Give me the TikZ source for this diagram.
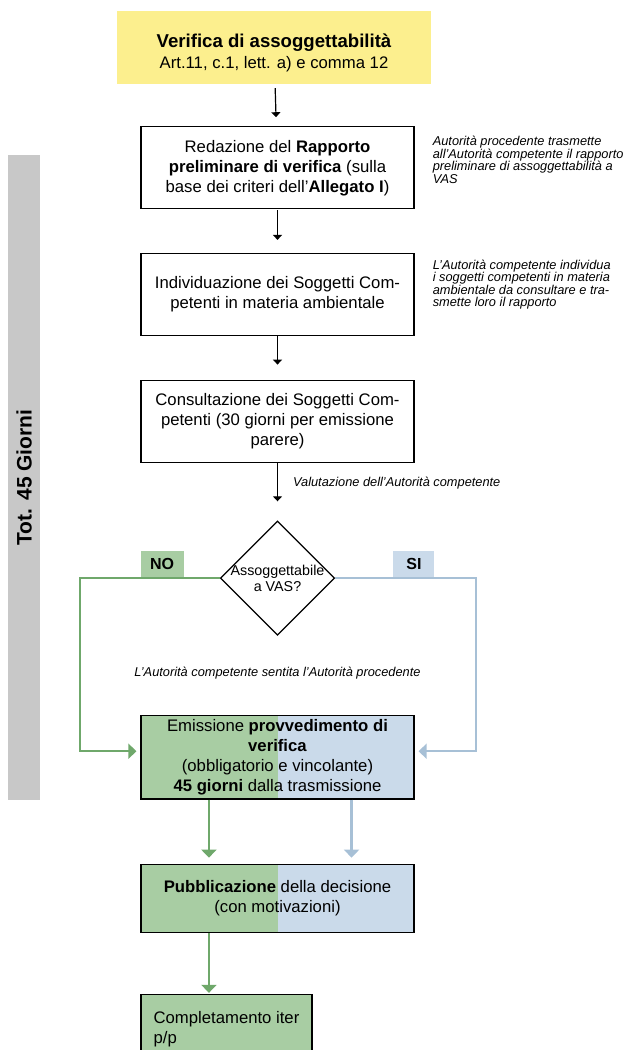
\documentclass[tikz,border=0pt]{standalone}
\usepackage{fontspec}
\setmainfont{Liberation Sans}
\usetikzlibrary{arrows.meta,positioning,shapes.geometric,calc}
\definecolor{vasyellow}{HTML}{FCEF8E}
\definecolor{vasgreen}{HTML}{A8CDA3}
\definecolor{vasgreenline}{HTML}{6FA86B}
\definecolor{vasblue}{HTML}{CADAEA}
\definecolor{vasblueline}{HTML}{A7C0D6}
\definecolor{vasgray}{HTML}{C8C8C8}
\newcommand{\boxfont}{\fontsize{16.7}{20}\selectfont}
\newcommand{\notefont}{\fontsize{12.8}{12.4}\selectfont\itshape}
\tikzset{
  flow/.style={-{Triangle[length=5pt,width=9pt]},line width=1.2pt,draw=black},
  noflow/.style={-{Triangle[length=8pt,width=15pt]},line width=2.2pt,draw=vasgreenline},
  siflow/.style={noflow,draw=vasblueline},
  box/.style={draw=black,line width=1.2pt,align=center,minimum width=273pt,minimum height=82pt,inner sep=4pt,font=\boxfont},
  splitbox/.style={box,path picture={
      \fill[vasgreen] (path picture bounding box.north west) rectangle (path picture bounding box.south);
      \fill[vasblue] (path picture bounding box.north) rectangle (path picture bounding box.south east);}},
  titlebox/.style={fill=vasyellow,align=center,minimum width=314pt,minimum height=73pt,inner sep=0pt},
  endbox/.style={draw=black,fill=vasgreen,line width=1.2pt,align=left,minimum width=171pt,minimum height=70pt,inner xsep=8pt,inner ysep=7pt,anchor=north west,font=\boxfont},
  note/.style={align=left,inner sep=0pt,font=\notefont},
  tag/.style={inner sep=0pt,minimum height=26pt,font=\fontsize{16}{16}\selectfont\bfseries},
  decision/.style={diamond,draw=black,line width=1.2pt,align=center,inner sep=-1.5pt,font=\fontsize{14.3}{16}\selectfont},
  totbar/.style={fill=vasgray,rotate=90,minimum width=645pt,minimum height=32pt,inner sep=0pt,font=\fontsize{21}{21}\selectfont\bfseries}
}

\begin{document}
\begin{tikzpicture}[x=1pt,y=-1pt]
  \useasboundingbox (0,0) rectangle (629,1050);
  \clip (0,0) rectangle (629,1050);

  \node[totbar] (tot) at (24,477.5) {Tot. 45 Giorni};

  \node[titlebox] (verifica) at (274,47.5) {\rule{0pt}{24pt}{\fontsize{18.6}{22}\selectfont\bfseries Verifica di assoggettabilità}\\[4pt]{\fontsize{16.7}{19}\selectfont Art.11, c.1, lett. a) e comma 12}};
  \node[box,below=42pt of verifica,xshift=3.5pt] (redazione) {Redazione del \textbf{Rapporto}\\\textbf{preliminare di verifica} (sulla\\base dei criteri dell'\textbf{Allegato I})};
  \node[box,below=43.5pt of redazione] (individua) {Individuazione dei Soggetti Com-\\petenti in materia ambientale};
  \node[box,below=43.5pt of individua] (consulta) {Consultazione dei Soggetti Com-\\petenti (30 giorni per emissione\\parere)};
  \node[decision,below=57.5pt of consulta] (assog) {Assoggettabile\\a VAS?};
  \node[note,below=31pt of assog] (sentita) {L'Autorità competente sentita l'Autorità procedente};
  \node[splitbox,below=79pt of assog] (emissione) {Emissione \textbf{provvedimento di}\\\textbf{verifica}\\(obbligatorio e vincolante)\\\textbf{45 giorni} dalla trasmissione};
  \node[splitbox,minimum height=68pt,below=64pt of emissione] (pubblica) {\textbf{Pubblicazione} della decisione\\(con motivazioni)};
  \node[endbox,below=61pt of pubblica.south west,anchor=north west] (completa) {Completamento iter\\p/p};

  \node[note,anchor=north west] (notaverifica) at ([xshift=18pt,yshift=-10pt]redazione.north east) {Autorità procedente trasmette\\all'Autorità competente il rapporto\\preliminare di assoggettabilità a\\VAS};
  \node[note,anchor=north west] (notasoggetti) at ([xshift=18pt,yshift=-7pt]individua.north east) {L'Autorità competente individua\\i soggetti competenti in materia\\ambientale da consultare e tra-\\smette loro il rapporto};

  \node[tag,fill=vasgreen,minimum width=43pt,anchor=south west] (no) at ([yshift=1pt]emissione.west |- assog.west) {NO};
  \node[tag,fill=vasblue,minimum width=41pt,anchor=south east] (si) at ([xshift=20pt,yshift=1pt]emissione.east |- assog.east) {SI};

  \draw[flow,shorten <=4pt,shorten >=9pt] (verifica) -- (redazione);
  \draw[flow,shorten <=1pt,shorten >=13pt] (redazione) -- (individua);
  \draw[flow,shorten >=15pt] (individua) -- (consulta);
  \draw[flow,shorten >=19pt] (consulta) -- node[note,pos=0.36,right=15pt] (valuta) {Valutazione dell'Autorità competente} (assog);

  \draw[noflow,shorten >=4pt] (assog.west) -- ++(-140,0) |- ([yshift=6pt]emissione.west);
  \draw[siflow,shorten >=4pt] (assog.east) -- ++(141,0) |- ([yshift=6pt]emissione.east);
  \draw[noflow,shorten >=6pt] ($(emissione.south west)!0.25!(emissione.south east)$) -- ($(pubblica.north west)!0.25!(pubblica.north east)$);
  \draw[siflow,shorten >=6pt] ($(emissione.south west)!0.77!(emissione.south east)$) -- ($(pubblica.north west)!0.77!(pubblica.north east)$);
  \draw[noflow,shorten >=1pt] ($(pubblica.south west)!0.25!(pubblica.south east)$) coordinate (pp) -- (pp |- completa.north);
\end{tikzpicture}
\end{document}
